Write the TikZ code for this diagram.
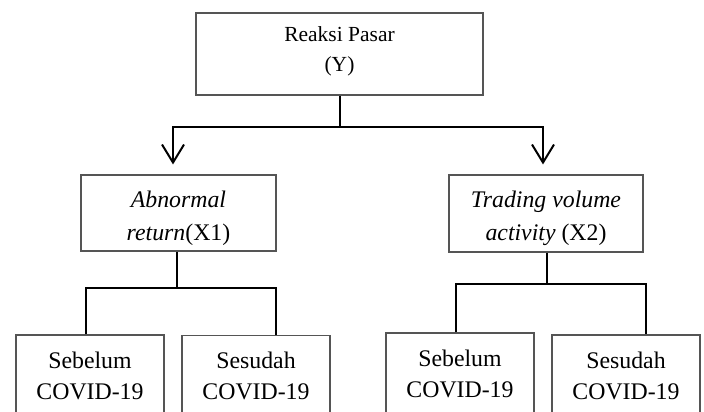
\documentclass[tikz,border=0pt]{standalone}
\usepackage{fontspec}
\setmainfont{Liberation Serif}
\usetikzlibrary{arrows.meta}
\definecolor{boxgray}{RGB}{85,85,85}
\newcommand\topfnt{\fontsize{21.5}{30}\selectfont}
\newcommand\midfnt{\fontsize{23.8}{33}\selectfont}
\newcommand\botfnt{\fontsize{23.8}{31}\selectfont}
\begin{document}
\begin{tikzpicture}[x=1pt,y=-1pt,
  box/.style={draw=boxgray, line width=1.1pt, inner sep=0pt},
  lbl/.style={align=center, text=black, inner sep=0pt},
  conn/.style={draw=black, line width=2pt},
  arr/.style={conn, -{Straight Barb[length=18pt,width=22pt]}, shorten >=10pt}]
\useasboundingbox (0,0) rectangle (704,412);
\fill[white] (0,0) rectangle (704,412);
\clip (0,0) rectangle (704,412);

% boxes
\node[box, minimum width=287pt, minimum height=82pt,
  label={[lbl, font=\topfnt, yshift=3pt]center:{Reaksi Pasar\\(Y)}}] (top) at (339.5,54) {};
\node[box, minimum width=195pt, minimum height=76pt,
  label={[lbl, font=\midfnt, yshift=-5pt]center:{\textit{Abnormal}\\\textit{return}(X1)}}] (ar) at (178.5,213) {};
\node[box, minimum width=194pt, minimum height=77pt,
  label={[lbl, font=\midfnt, yshift=-5pt]center:{\textit{Trading volume}\\\textit{activity} (X2)}}] (tv) at (546,213.5) {};
\node[box, minimum width=148pt, minimum height=81pt,
  label={[lbl, font=\botfnt]center:{Sebelum\\COVID-19}}] (b1) at (90,375.5) {};
\node[box, minimum width=148pt, minimum height=81pt,
  label={[lbl, font=\botfnt]center:{Sesudah\\COVID-19}}] (b2) at (256,376) {};
\node[box, minimum width=148pt, minimum height=81pt,
  label={[lbl, font=\botfnt]center:{Sebelum\\COVID-19}}] (b3) at (460,373.5) {};
\node[box, minimum width=148pt, minimum height=81pt,
  label={[lbl, font=\botfnt]center:{Sesudah\\COVID-19}}] (b4) at (626,375.5) {};

% junction coordinates
\coordinate (j0) at (340,127);
\coordinate (j1) at (177,288);
\coordinate (j2) at (547,284);

% top connectors
\draw[conn] (top.south -| j0) -- (j0);
\draw[arr] (j0) -| ([xshift=-5.5pt]ar.north);
\draw[arr] (j0) -| ([xshift=-3pt]tv.north);

% left group
\draw[conn] (ar.south -| j1) -- (j1);
\draw[conn] ([xshift=-4pt]b1.north) |- (j1) -| ([xshift=20pt]b2.north);

% right group
\draw[conn] (tv.south -| j2) -- (j2);
\draw[conn] ([xshift=-4pt]b3.north) |- (j2) -| ([xshift=20pt]b4.north);
\end{tikzpicture}
\end{document}
